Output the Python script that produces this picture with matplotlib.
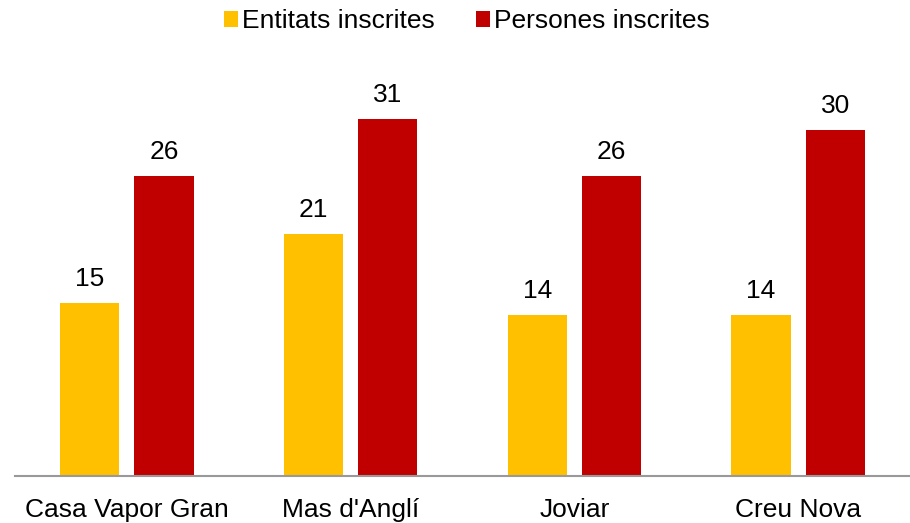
import numpy as np
import matplotlib.pyplot as plt

plt.rcParams['font.family'] = ['Liberation Sans', 'DejaVu Sans']

llocs = ['Casa Vapor Gran', "Mas d'Anglí", 'Joviar', 'Creu Nova']
entitats = [15, 21, 14, 14]
persones = [26, 31, 26, 30]

groc = '#FFC000'
vermell = '#C00000'

fig = plt.figure(figsize=(9.1, 5.23), dpi=100)
ax = fig.add_axes([15 / 910, 47 / 523, 895 / 910, 415 / 523])

x = np.arange(len(llocs))
amp = 0.265
sep = 0.067
b1 = ax.bar(x - (amp + sep) / 2, entitats, amp, color=groc, label='Entitats inscrites')
b2 = ax.bar(x + (amp + sep) / 2, persones, amp, color=vermell, label='Persones inscrites')

for barres in (b1, b2):
    ax.bar_label(barres, padding=8.5, fontsize=19)

ax.set_xlim(-0.5, len(llocs) - 0.5)
ax.set_ylim(0, 36)
ax.set_xticks(x)
ax.set_xticklabels(llocs, fontsize=19)
ax.tick_params(axis='x', length=0, pad=16)
ax.set_yticks([])
for s in ['top', 'right', 'left']:
    ax.spines[s].set_visible(False)
ax.spines['bottom'].set_color('#999999')
ax.spines['bottom'].set_linewidth(1.5)

fig.legend(loc='upper center', bbox_to_anchor=(0.513, 1.028), ncol=2, frameon=False,
           fontsize=19, handlelength=0.55, handleheight=0.55, handletextpad=0.15,
           columnspacing=1.55)

plt.savefig('out.png', dpi=100)
